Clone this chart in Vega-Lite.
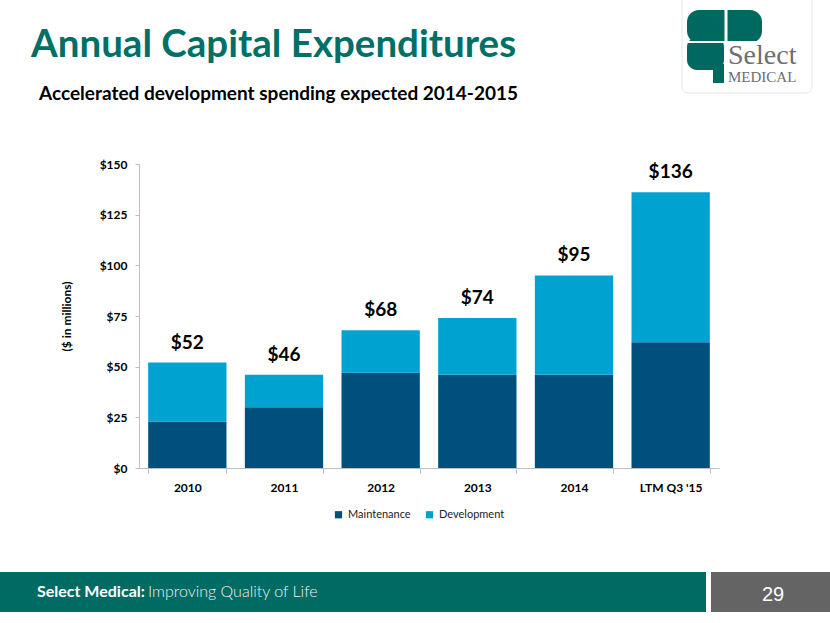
{
  "$schema": "https://vega.github.io/schema/vega-lite/v6.json",
  "autosize": {"type": "none"},
  "width": 580,
  "height": 304,
  "padding": {"left": 139, "top": 164, "right": 111, "bottom": 155},
  "background": "white",
  "config": {"view": {"stroke": null}, "font": "Lato"},
  "data": {
    "values": [
      {"year": "2010", "type": "Maintenance", "value": 23},
      {"year": "2010", "type": "Development", "value": 29},
      {"year": "2011", "type": "Maintenance", "value": 30},
      {"year": "2011", "type": "Development", "value": 16},
      {"year": "2012", "type": "Maintenance", "value": 47},
      {"year": "2012", "type": "Development", "value": 21},
      {"year": "2013", "type": "Maintenance", "value": 46},
      {"year": "2013", "type": "Development", "value": 28},
      {"year": "2014", "type": "Maintenance", "value": 46},
      {"year": "2014", "type": "Development", "value": 49},
      {"year": "LTM Q3 '15", "type": "Maintenance", "value": 62},
      {"year": "LTM Q3 '15", "type": "Development", "value": 74}
    ]
  },
  "layer": [
    {
      "mark": {"type": "bar"},
      "encoding": {
        "x": {
          "field": "year", "type": "nominal", "sort": null,
          "scale": {"paddingInner": 0.19},
          "axis": {
            "title": null, "labelAngle": 0, "labelFont": "Lato", "labelFontWeight": "bold",
            "labelFontSize": 12, "labelColor": "#000000", "tickBand": "extent",
            "ticks": true, "tickSize": 5, "tickColor": "#BFBFBF", "domainColor": "#BFBFBF",
            "labelPadding": 9, "grid": false
          }
        },
        "y": {
          "aggregate": "sum", "field": "value", "type": "quantitative",
          "scale": {"domain": [0, 150], "nice": false},
          "axis": {
            "title": "($ in millions)", "titleFont": "Lato", "titleFontWeight": "bold",
            "titleFontSize": 12, "titleColor": "#000000", "titlePadding": 26,
            "values": [0, 25, 50, 75, 100, 125, 150], "format": "$.0f",
            "labelFont": "Lato", "labelFontWeight": "bold", "labelFontSize": 12,
            "labelColor": "#000000", "grid": false, "domainColor": "#BFBFBF",
            "tickColor": "#BFBFBF", "tickSize": 4, "labelPadding": 8
          }
        },
        "color": {
          "field": "type", "type": "nominal",
          "scale": {"domain": ["Maintenance", "Development"], "range": ["#004F7C", "#00A3D0"]},
          "legend": {
            "orient": "none", "legendX": 194, "legendY": 345, "direction": "horizontal",
            "title": null, "symbolType": "square", "symbolSize": 52, "symbolStrokeWidth": 0,
            "labelFont": "Lato", "labelFontSize": 11, "labelColor": "#222222",
            "columnPadding": 13, "labelOffset": 4, "padding": 0
          }
        },
        "order": {"field": "type", "sort": "descending"}
      }
    },
    {
      "mark": {"type": "text", "font": "Lato", "fontSize": 19, "fontWeight": "bold", "baseline": "alphabetic", "dy": -14, "color": "#000000"},
      "encoding": {
        "x": {"field": "year", "type": "nominal", "sort": null},
        "y": {"aggregate": "sum", "field": "value", "type": "quantitative"},
        "text": {"aggregate": "sum", "field": "value", "type": "quantitative", "format": "$.0f"}
      }
    },
    {
      "data": {"values": [{"label": "Annual Capital Expenditures"}]},
      "mark": {"type": "text", "font": "Lato", "fontSize": 38.5, "fontWeight": "bold", "color": "#006F66", "align": "left", "baseline": "alphabetic"},
      "encoding": {"text": {"field": "label"}, "x": {"value": -108}, "y": {"value": -107}}
    },
    {
      "data": {"values": [{"label": "Accelerated development spending expected 2014-2015"}]},
      "mark": {"type": "text", "font": "Lato", "fontSize": 19, "fontWeight": "bold", "color": "#000000", "align": "left", "baseline": "alphabetic"},
      "encoding": {"text": {"field": "label"}, "x": {"value": -100}, "y": {"value": -64}}
    },
    {
      "data": {"values": [{"part": "band"}]},
      "mark": {"type": "rect", "color": "#006B63"},
      "encoding": {"x": {"value": -139}, "x2": {"value": 567}, "y": {"value": 408}, "y2": {"value": 448}}
    },
    {
      "data": {"values": [{"part": "page"}]},
      "mark": {"type": "rect", "color": "#646464"},
      "encoding": {"x": {"value": 572}, "x2": {"value": 691}, "y": {"value": 408}, "y2": {"value": 448}}
    },
    {
      "data": {"values": [{"label": "Select Medical:"}]},
      "mark": {"type": "text", "font": "Lato", "fontSize": 16, "fontWeight": "bold", "color": "#FFFFFF", "align": "left", "baseline": "alphabetic"},
      "encoding": {"text": {"field": "label"}, "x": {"value": -102}, "y": {"value": 433}}
    },
    {
      "data": {"values": [{"label": "Improving Quality of Life"}]},
      "mark": {"type": "text", "font": "Lato", "fontSize": 16, "fontWeight": 300, "color": "#F0F0F0", "align": "left", "baseline": "alphabetic"},
      "encoding": {"text": {"field": "label"}, "x": {"value": 9}, "y": {"value": 433}}
    },
    {
      "data": {"values": [{"label": "29"}]},
      "mark": {"type": "text", "font": "Liberation Sans", "fontSize": 20, "color": "#FFFFFF", "align": "center", "baseline": "alphabetic"},
      "encoding": {"text": {"field": "label"}, "x": {"value": 634}, "y": {"value": 436.5}}
    },
    {
      "data": {"values": [{"part": "logo box"}]},
      "mark": {"type": "rect", "fill": "#FFFFFF", "stroke": "#E6E6E6", "strokeWidth": 1, "cornerRadius": 6},
      "encoding": {"x": {"value": 543}, "x2": {"value": 673}, "y": {"value": -170}, "y2": {"value": -71}}
    },
    {
      "data": {"values": [{"part": "canopy top"}]},
      "mark": {"type": "rect", "color": "#00695F", "cornerRadius": 12},
      "encoding": {"x": {"value": 548}, "x2": {"value": 623}, "y": {"value": -154}, "y2": {"value": -121}}
    },
    {
      "data": {"values": [{"part": "canopy bottom"}]},
      "mark": {"type": "rect", "color": "#00695F", "cornerRadius": 10},
      "encoding": {"x": {"value": 548}, "x2": {"value": 585}, "y": {"value": -127}, "y2": {"value": -94}}
    },
    {
      "data": {"values": [{"part": "trunk"}]},
      "mark": {"type": "rect", "color": "#00695F"},
      "encoding": {"x": {"value": 574}, "x2": {"value": 585}, "y": {"value": -100}, "y2": {"value": -81}}
    },
    {
      "data": {"values": [{"part": "cross v"}]},
      "mark": {"type": "rule", "color": "#FFFFFF", "strokeWidth": 3},
      "encoding": {"x": {"value": 587}, "y": {"value": -156}, "y2": {"value": -121}}
    },
    {
      "data": {"values": [{"part": "cross h"}]},
      "mark": {"type": "rule", "color": "#FFFFFF", "strokeWidth": 2},
      "encoding": {"x": {"value": 546}, "x2": {"value": 625}, "y": {"value": -122}}
    },
    {
      "data": {"values": [{"label": "Select"}]},
      "mark": {"type": "text", "font": "Liberation Serif", "fontSize": 28, "color": "#6D6E70", "align": "left", "baseline": "alphabetic"},
      "encoding": {"text": {"field": "label"}, "x": {"value": 589}, "y": {"value": -100}}
    },
    {
      "data": {"values": [{"label": "MEDICAL"}]},
      "mark": {"type": "text", "font": "Liberation Serif", "fontSize": 15, "color": "#6D6E70", "align": "left", "baseline": "alphabetic"},
      "encoding": {"text": {"field": "label"}, "x": {"value": 589}, "y": {"value": -82}}
    }
  ]
}
